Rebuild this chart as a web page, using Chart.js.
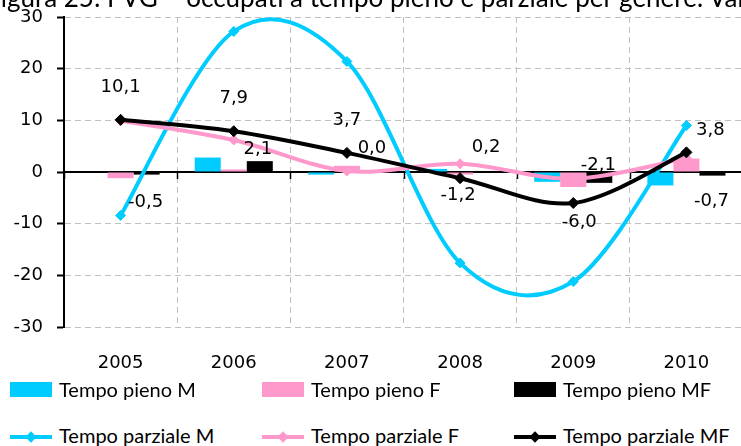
<!DOCTYPE html>
<html><head><meta charset="utf-8">
<script src="https://cdn.jsdelivr.net/npm/chart.js@4.4.0/dist/chart.umd.min.js"></script>
<style>
html,body{margin:0;padding:0;background:#fff;overflow:hidden;width:741px;height:446px;}
#wrap{position:relative;width:741px;height:446px;overflow:hidden;}
#title{position:absolute;left:-14px;top:-16px;font-family:Lato,sans-serif;font-size:26px;line-height:1;white-space:nowrap;color:#000;}
#cv{position:absolute;left:0;top:0;}
.lg{position:absolute;font-family:Lato,sans-serif;font-size:20px;line-height:1;white-space:nowrap;color:#000;}
.sw{position:absolute;}
</style></head><body>
<div id="wrap">
<canvas id="cv" width="760" height="380" style="width:760px;height:380px"></canvas>
<div id="title">Figura 25: FVG – occupati a tempo pieno e parziale per genere. Var. %</div>
<div id="legend"></div>
</div>
<script>
// ---- data ----
const categories = ['2005','2006','2007','2008','2009','2010'];
const pienoM     = [0.0, 2.8, -0.5, 0.6, -1.9, -2.6];
const pienoF     = [-1.2, 0.5, 1.2, -0.5, -2.9, 2.6];
const pienoMF    = [-0.5, 2.1, 0.0, 0.2, -2.1, -0.7];
const parzialeM  = [-8.4, 27.2, 21.4, -17.6, -21.2, 9.0];
const parzialeF  = [9.9, 6.2, 0.2, 1.6, -1.3, 2.7];
const parzialeMF = [10.1, 7.9, 3.7, -1.2, -6.0, 3.8];
const yTicks     = [-30, -20, -10, 0, 10, 20, 30];
const names = ['Tempo pieno M','Tempo pieno F','Tempo pieno MF','Tempo parziale M','Tempo parziale F','Tempo parziale MF'];

// ---- styles ----
const CYAN = '#00CCFF', PINK = '#FF99CC', BLACK = '#000000';
const FONT = '"DejaVu Sans", Verdana, sans-serif';
// label offsets in px relative to the element (style only)
const labelOffsets = {
  5: [[0,-32],[0,-33],[0,-33],[-2,17],[6,19],[24,-22]],   // Tempo parziale MF
  2: [[-1,28],[-2,-12],[-1,-24],[0,-24],[-1,-18],[-1,26]]  // Tempo pieno MF
};
const fmt = v => v.toFixed(1).replace('.', ',');

// Excel-like smoothing (control points at 1/6 of neighbour chord)
const excelSmooth = {
  id: 'excelSmooth',
  beforeDatasetDraw(chart, args) {
    const meta = args.meta;
    if (meta.type !== 'line') return;
    const pts = meta.data, n = pts.length;
    for (let i = 0; i < n; i++) {
      const p = pts[Math.max(i - 1, 0)], q = pts[Math.min(i + 1, n - 1)];
      const dx = (q.x - p.x) / 6, dy = (q.y - p.y) / 6;
      pts[i].cp1x = pts[i].x - dx; pts[i].cp1y = pts[i].y - dy;
      pts[i].cp2x = pts[i].x + dx; pts[i].cp2y = pts[i].y + dy;
    }
    meta.dataset._pointsUpdated = true;
  }
};

const zeroAxis = {
  id: 'zeroAxis',
  beforeDatasetsDraw(chart) {
    const {ctx, chartArea, scales: {x, y}} = chart;
    const y0 = y.getPixelForValue(0);
    ctx.save();
    ctx.strokeStyle = '#000';
    ctx.lineWidth = 2;
    ctx.beginPath(); ctx.moveTo(chartArea.left, y0); ctx.lineTo(chartArea.right, y0); ctx.stroke();
    const half = (x.getPixelForValue(1) - x.getPixelForValue(0)) / 2;
    ctx.lineWidth = 1.5;
    for (let i = 0; i <= categories.length; i++) {
      const px = Math.round(x.getPixelForValue(i) - half) + 0.5;
      ctx.beginPath(); ctx.moveTo(px, y0); ctx.lineTo(px, y0 + 7); ctx.stroke();
    }
    ctx.restore();
  }
};

const valueLabels = {
  id: 'valueLabels',
  afterDatasetsDraw(chart) {
    const ctx = chart.ctx;
    ctx.save();
    ctx.font = '18px ' + FONT;
    ctx.fillStyle = '#000';
    ctx.textAlign = 'center';
    ctx.textBaseline = 'middle';
    Object.keys(labelOffsets).forEach(k => {
      const di = +k, ds = chart.data.datasets[di];
      const meta = chart.getDatasetMeta(di);
      meta.data.forEach((el, i) => {
        const [dx, dy] = labelOffsets[k][i];
        ctx.fillText(fmt(ds.data[i]), el.x + dx, el.y + dy);
      });
    });
    ctx.restore();
  }
};

const lineDs = (label, data, color, r, order) => ({
  type: 'line', label, data, borderColor: color, backgroundColor: color,
  borderWidth: 4, pointStyle: 'rectRot', pointRadius: r, pointBorderWidth: 1,
  pointBorderColor: color, pointBackgroundColor: color, tension: 0.4, fill: false, order
});
const barDs = (label, data, color) => ({
  type: 'bar', label, data, backgroundColor: color, borderWidth: 0, order: 10
});

new Chart(document.getElementById('cv'), {
  type: 'bar',
  data: {
    labels: categories,
    datasets: [
      barDs(names[0], pienoM, CYAN),
      barDs(names[1], pienoF, PINK),
      barDs(names[2], pienoMF, BLACK),
      lineDs(names[3], parzialeM, CYAN, 5, 3),
      lineDs(names[4], parzialeF, PINK, 5, 2),
      lineDs(names[5], parzialeMF, BLACK, 5.5, 1)
    ]
  },
  options: {
    responsive: false,
    animation: false,
    events: [],
    layout: {padding: {top: 17, right: 17, bottom: 0, left: 0}},
    plugins: {legend: {display: false}, tooltip: {enabled: false}, title: {display: false}},
    datasets: {bar: {categoryPercentage: 0.69, barPercentage: 1.0}},
    scales: {
      x: {
        grid: {offset: true, color: '#C0C0C0', lineWidth: 1, drawTicks: false},
        border: {display: false, dash: [6, 4]},
        ticks: {font: {family: FONT, size: 18}, color: '#000', padding: 26, maxRotation: 0},
        afterFit: s => { s.height = 53; s.paddingLeft = 0; s.paddingRight = 0; }
      },
      y: {
        min: -30, max: 30,
        afterBuildTicks: s => { s.ticks = yTicks.map(v => ({value: v})); },
        ticks: {font: {family: FONT, size: 18}, color: '#000', padding: 14},
        grid: {color: c => (c.tick && c.tick.value === 0) ? 'rgba(0,0,0,0)' : '#C0C0C0',
               tickColor: '#000', tickLength: 7, tickWidth: 2, lineWidth: 1},
        border: {display: true, color: '#000', width: 2, dash: [6, 4]},
        afterFit: s => { s.width = 64; s.paddingTop = 0; s.paddingBottom = 0; }
      }
    }
  },
  plugins: [excelSmooth, zeroAxis, valueLabels]
});

// ---- HTML legend ----
const legendColors = [CYAN, PINK, BLACK, CYAN, PINK, BLACK];
const colX = [10, 262, 514];
const lg = document.getElementById('legend');
names.forEach((n, i) => {
  const col = i % 3, row = Math.floor(i / 3);
  const x = colX[col];
  if (row === 0) {
    const b = document.createElement('div');
    b.className = 'sw';
    b.style.cssText = `left:${x}px;top:382px;width:42px;height:15px;background:${legendColors[i]}`;
    lg.appendChild(b);
  } else {
    const l = document.createElement('div');
    l.className = 'sw';
    l.style.cssText = `left:${x}px;top:435px;width:42px;height:4px;background:${legendColors[i]}`;
    lg.appendChild(l);
    const d = document.createElement('div');
    d.className = 'sw';
    d.style.cssText = `left:${x + 17}px;top:433px;width:8px;height:8px;background:${legendColors[i]};transform:rotate(45deg)`;
    lg.appendChild(d);
  }
  const t = document.createElement('div');
  t.className = 'lg';
  t.textContent = n;
  t.style.left = (x + 49) + 'px';
  t.style.top = (row === 0 ? 379 : 425) + 'px';
  lg.appendChild(t);
});
</script>
</body></html>
